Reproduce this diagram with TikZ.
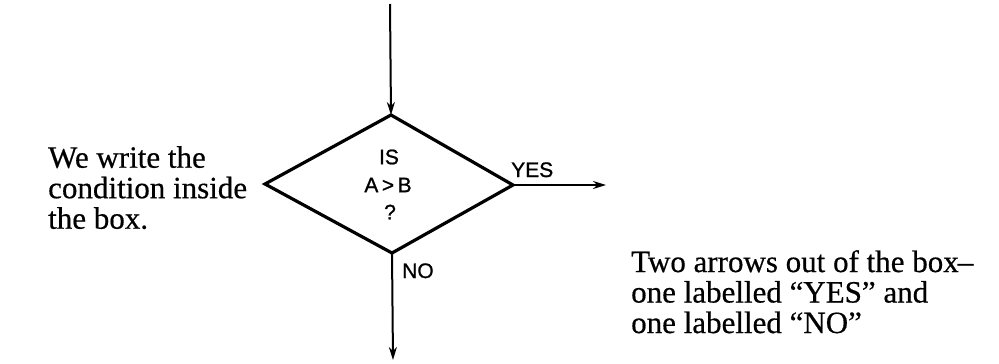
\documentclass[tikz,border=0pt]{standalone}
\usepackage{fontspec}
\setmainfont{Liberation Serif}[FakeBold=0.5]
\newfontfamily\labfont{Liberation Sans}[FakeBold=1]
\usetikzlibrary{arrows.meta}
\begin{document}
\begin{tikzpicture}[x=1pt,y=-1pt,
  line/.style={line width=3.2pt},
  arr/.style={line width=2pt,-{Stealth[length=13pt,width=8pt]}},
  body/.style={font=\fontsize{31}{30.5}\selectfont,align=left,inner sep=0pt,anchor=north west},
  lab/.style={font=\labfont\fontsize{21}{22}\selectfont,inner sep=0pt}]
\useasboundingbox (0,0) rectangle (999,364);
\coordinate (T) at (391,115);
\coordinate (L) at (265,184);
\coordinate (R) at (513,185);
\coordinate (B) at (392,253);
\coordinate (in) at (390,4);
\coordinate (yesend) at (606,185);
\coordinate (noend) at (393,360);
\draw[line,line join=miter] (T) -- (R) -- (B) -- (L) -- cycle;
\draw[arr] (in) -- (T);
\draw[arr] (R) -- (yesend);
\draw[arr] (B) -- (noend);
\node[lab] (q1) at (389,157) {IS};
\node[lab] (q2) at (388,185) {A\,>\,B};
\node[lab] (q3) at (390,212) {?};
\node[lab,anchor=base west] (yes) at (511,177) {YES};
\node[lab,anchor=base west] (no) at (402,278) {NO};
\node[body] (left) at (48,146) {We write the\\condition inside\\the box.};
\node[body] (right) at (631,250) {Two arrows out of the box\kern-1pt--\\one labelled ``YES'' and\\one labelled ``NO''};
\end{tikzpicture}
\end{document}
